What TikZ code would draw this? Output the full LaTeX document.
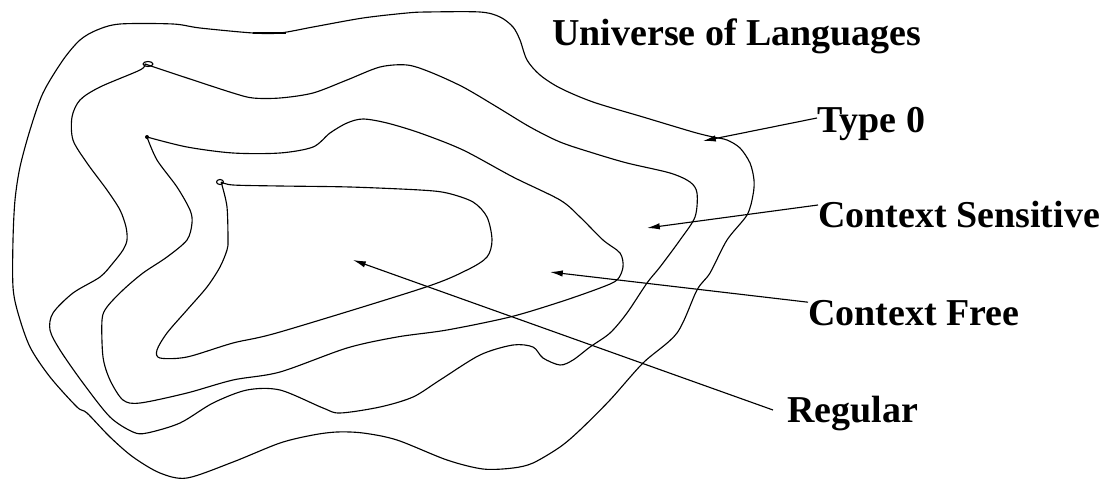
\documentclass[tikz,border=0pt]{standalone}
\usepackage{fontspec}
\setmainfont{Liberation Serif}
\usepackage{tikz}
\usetikzlibrary{arrows.meta}

\begin{document}
\begin{tikzpicture}[
  x=0.025cm, y=-0.025cm,
  curve/.style={line width=0.8pt, line join=round},
  lbl/.style={anchor=base west, inner sep=0pt, font=\bfseries\fontsize{27}{32}\selectfont},
  arr/.style={-{Latex[length=3.2mm,width=1.6mm]}, line width=0.8pt}
]
\useasboundingbox (0,0) rectangle (1109,480);

% type 0 boundary
\draw[curve] plot[smooth cycle] coordinates {
  (13,240) (15,200) (20,167) (30,130) (43,93) (63,60) (80,40) (97,30) (120,24)
  (173,24) (200,28) (253,33) (280,33) (313,27) (363,18) (407,13) (427,12) (480,12)
  (500,17) (513,27) (520,40) (527,60) (540,75) (560,88) (593,102) (643,117) (693,132)
  (713,137) (727,140) (740,148) (750,163) (754,180) (753,195) (747,215) (727,240)
  (710,273) (697,290) (677,333) (643,363) (610,400) (580,430) (560,447) (533,463)
  (513,468) (483,469) (447,460) (397,440) (363,433) (337,432) (313,435) (280,443)
  (233,462) (187,478) (160,473) (133,457) (110,437) (87,413) (77,407) (50,377)
  (30,347) (18,313) (13,287)};
\draw[line width=1.8pt] (253,33) -- (286,33);

% context sensitive boundary
\draw[curve] plot[smooth] coordinates {
  (145,64) (187,78) (233,93) (253,98) (280,98) (313,93) (347,80) (380,67) (407,65)
  (430,72) (463,87) (497,107) (530,127) (560,142) (593,153) (627,163) (670,173)
  (690,182) (697,193) (695,217) (680,240) (660,267) (647,283) (627,313) (610,333)
  (590,347) (573,360) (560,365) (543,358) (533,347) (513,345) (480,355) (440,380)
  (413,397) (380,407) (340,413) (323,408) (280,390) (247,390) (213,403) (180,423)
  (147,433) (133,432) (110,417) (83,383) (60,350) (50,330) (53,313) (73,293)
  (100,277) (113,263) (123,250) (127,240) (126,227) (120,210) (107,190) (87,163)
  (73,140) (72,117) (80,100) (100,87) (140,70) (145,64)};
\draw[curve] (148,64) ellipse (5 and 2.5);

% context free boundary
\draw[curve] plot[smooth] coordinates {
  (147,137) (187,147) (233,153) (280,153) (313,147) (330,133) (347,123) (363,119)
  (387,123) (420,133) (463,150) (513,177) (560,200) (580,217) (603,240) (620,253)
  (623,267) (617,280) (600,288) (560,302) (510,317) (447,330) (397,337) (347,348)
  (280,372) (233,380) (187,393) (140,403) (123,400) (110,380) (103,357) (102,320)
  (107,307) (123,290) (143,273) (167,257) (187,240) (192,223) (190,210) (177,187)
  (157,160) (147,137)};
\fill (147,137) circle (2);

% regular boundary
\draw[curve] plot[smooth] coordinates {
  (221,182) (233,185) (280,186) (350,187) (420,190) (447,193) (473,202) (487,217)
  (492,240) (487,257) (467,270) (423,288) (280,332) (233,343) (187,357) (160,358)
  (157,350) (167,333) (187,310) (207,287) (220,267) (227,250) (228,240) (227,207)
  (222,185) (221,182)};
\draw[curve] (220,182) ellipse (3.5 and 2.5);

% labels
\node[lbl] (univ) at (552,45) {Universe of Languages};
\node[lbl] (type0) at (817,132) {Type 0};
\node[lbl] (csens) at (818,227) {Context Sensitive};
\node[lbl] (cfree) at (808,325) {Context Free};
\node[lbl] (regular) at (787,422) {Regular};

\coordinate (tip0) at (703,141);
\coordinate (tipcs) at (647,228);
\coordinate (tipcf) at (550,272);
\coordinate (tipreg) at (353,260);

\draw[arr] ([yshift=0.35cm]type0.base west) -- (tip0);
\draw[arr] ([yshift=0.55cm]csens.base west) -- (tipcs);
\draw[arr] ([yshift=0.57cm]cfree.base west) -- (tipcf);
\draw[arr] ([xshift=-0.35cm,yshift=0.3cm]regular.base west) -- (tipreg);
\end{tikzpicture}
\end{document}
